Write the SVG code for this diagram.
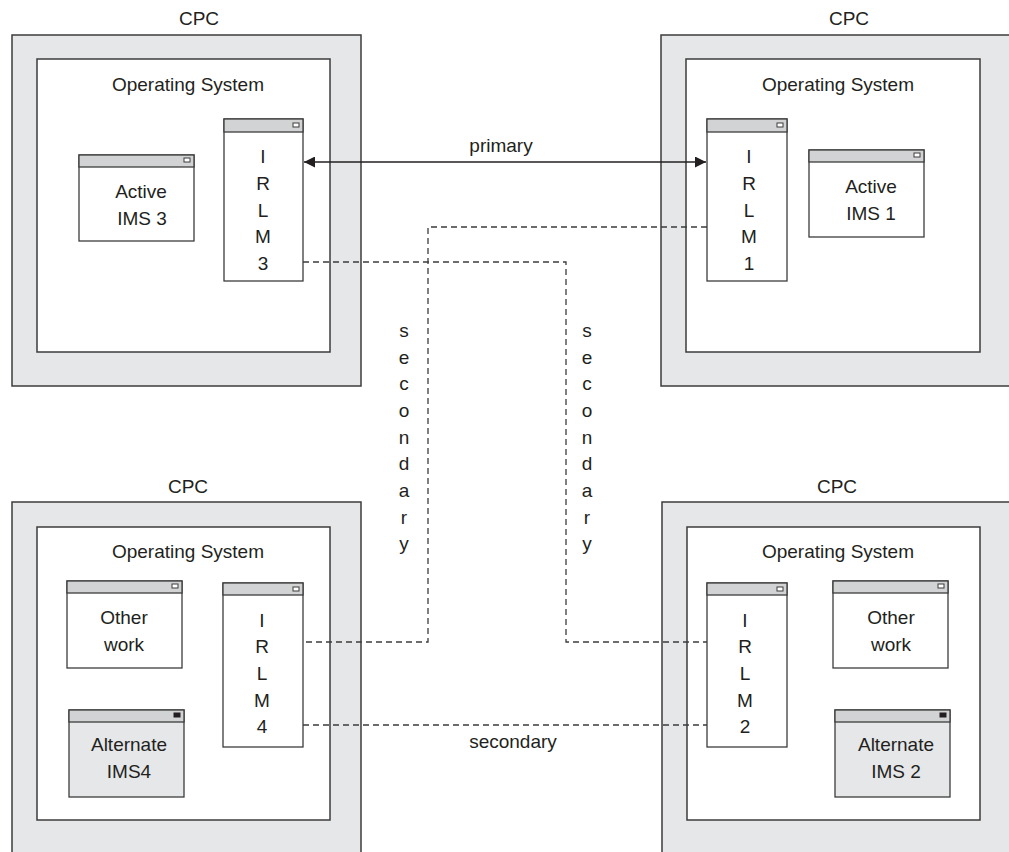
<svg xmlns="http://www.w3.org/2000/svg" width="1009" height="852" viewBox="0 0 1009 852">
<defs>
<style>
text{font-family:"Liberation Sans",Arial,sans-serif;font-size:19px;fill:#231f20;text-anchor:middle}
.cpc{fill:#e6e7e9;stroke:#3c3c3c;stroke-width:1.5}
.os{fill:#ffffff;stroke:#3c3c3c;stroke-width:1.5}
.win{fill:#ffffff;stroke:#3c3c3c;stroke-width:1.3}
.alt{fill:#e6e7e9;stroke:#3c3c3c;stroke-width:1.3}
.bar{fill:#d2d3d5;stroke:#3c3c3c;stroke-width:1.3}
.ico{fill:#ffffff;stroke:#3c3c3c;stroke-width:1}
.icof{fill:#231f20;stroke:#231f20;stroke-width:1}
.dash{fill:none;stroke:#3c3c3c;stroke-width:1.3;stroke-dasharray:6 4}
.solid{fill:none;stroke:#231f20;stroke-width:1.5}
</style>
<marker id="ah" viewBox="0 0 10 10" refX="10" refY="5" markerWidth="11" markerHeight="11" markerUnits="userSpaceOnUse" orient="auto-start-reverse">
<path d="M0,0 L10,5 L0,10 z" fill="#231f20"/>
</marker>
</defs>

<g id="cpc-tl">
<rect class="cpc" x="12" y="35" width="349" height="351"/>
<rect class="os" x="37" y="59" width="293" height="293"/>
<text x="199" y="25">CPC</text>
<text x="188" y="91">Operating System</text>
</g>
<g id="cpc-tr">
<rect class="cpc" x="661" y="35" width="360" height="351"/>
<rect class="os" x="686" y="59" width="294" height="293"/>
<text x="849" y="25">CPC</text>
<text x="838" y="91">Operating System</text>
</g>
<g id="cpc-bl">
<rect class="cpc" x="12" y="502" width="349" height="360"/>
<rect class="os" x="37" y="527" width="293" height="293"/>
<text x="188" y="493">CPC</text>
<text x="188" y="558">Operating System</text>
</g>
<g id="cpc-br">
<rect class="cpc" x="662" y="502" width="360" height="360"/>
<rect class="os" x="687" y="527" width="293" height="293"/>
<text x="837" y="493">CPC</text>
<text x="838" y="558">Operating System</text>
</g>

<g id="irlm3">
<rect class="win" x="224" y="119" width="79" height="162"/>
<rect class="bar" x="224" y="119" width="79" height="13"/>
<rect class="ico" x="293" y="123" width="6" height="4"/>
<text x="263" y="163">I</text><text x="263" y="190">R</text><text x="263" y="217">L</text><text x="263" y="243">M</text><text x="263" y="270">3</text>
</g>
<g id="ims3">
<rect class="win" x="79" y="155" width="115" height="86"/>
<rect class="bar" x="79" y="155" width="115" height="12"/>
<rect class="ico" x="184" y="158" width="6" height="4"/>
<text x="141" y="198">Active</text><text x="142" y="225">IMS 3</text>
</g>
<g id="irlm1">
<rect class="win" x="707" y="119" width="80" height="162"/>
<rect class="bar" x="707" y="119" width="80" height="13"/>
<rect class="ico" x="777" y="123" width="6" height="4"/>
<text x="749" y="163">I</text><text x="749" y="190">R</text><text x="749" y="217">L</text><text x="749" y="243">M</text><text x="749" y="270">1</text>
</g>
<g id="ims1">
<rect class="win" x="809" y="150" width="115" height="87"/>
<rect class="bar" x="809" y="150" width="115" height="12"/>
<rect class="ico" x="914" y="153" width="6" height="4"/>
<text x="871" y="193">Active</text><text x="871" y="220">IMS 1</text>
</g>
<g id="other-bl">
<rect class="win" x="67" y="581" width="115" height="87"/>
<rect class="bar" x="67" y="581" width="115" height="12"/>
<rect class="ico" x="172" y="584" width="6" height="4"/>
<text x="124" y="624">Other</text><text x="124" y="651">work</text>
</g>
<g id="ims4">
<rect class="alt" x="69" y="710" width="115" height="87"/>
<rect class="bar" x="69" y="710" width="115" height="12"/>
<rect class="icof" x="174" y="713" width="6" height="4"/>
<text x="129" y="751">Alternate</text><text x="129" y="778">IMS4</text>
</g>
<g id="irlm4">
<rect class="win" x="223" y="583" width="80" height="164"/>
<rect class="bar" x="223" y="583" width="80" height="12"/>
<rect class="ico" x="293" y="587" width="6" height="4"/>
<text x="262" y="627">I</text><text x="262" y="653">R</text><text x="262" y="680">L</text><text x="262" y="707">M</text><text x="262" y="733">4</text>
</g>
<g id="irlm2">
<rect class="win" x="707" y="583" width="80" height="164"/>
<rect class="bar" x="707" y="583" width="80" height="12"/>
<rect class="ico" x="777" y="587" width="6" height="4"/>
<text x="745" y="627">I</text><text x="745" y="653">R</text><text x="745" y="680">L</text><text x="745" y="707">M</text><text x="745" y="733">2</text>
</g>
<g id="other-br">
<rect class="win" x="833" y="581" width="115" height="87"/>
<rect class="bar" x="833" y="581" width="115" height="12"/>
<rect class="ico" x="938" y="584" width="6" height="4"/>
<text x="891" y="624">Other</text><text x="891" y="651">work</text>
</g>
<g id="ims2">
<rect class="alt" x="835" y="710" width="115" height="87"/>
<rect class="bar" x="835" y="710" width="115" height="12"/>
<rect class="icof" x="940" y="713" width="6" height="4"/>
<text x="896" y="751">Alternate</text><text x="896" y="778">IMS 2</text>
</g>

<g id="connectors">
<line class="solid" x1="304" y1="162" x2="706" y2="162" marker-start="url(#ah)" marker-end="url(#ah)"/>
<path class="dash" d="M707,227 H428 V642 H303"/>
<path class="dash" d="M303,262 H566 V642 H707"/>
<path class="dash" d="M303,725 H707"/>
<text x="501" y="152">primary</text>
<text x="513" y="748">secondary</text>
<g id="sec-left">
<text x="404" y="337">s</text><text x="404" y="364">e</text><text x="404" y="390">c</text><text x="404" y="417">o</text><text x="404" y="444">n</text><text x="404" y="470">d</text><text x="404" y="497">a</text><text x="404" y="524">r</text><text x="404" y="550">y</text>
</g>
<g id="sec-right">
<text x="587" y="337">s</text><text x="587" y="364">e</text><text x="587" y="390">c</text><text x="587" y="417">o</text><text x="587" y="444">n</text><text x="587" y="470">d</text><text x="587" y="497">a</text><text x="587" y="524">r</text><text x="587" y="550">y</text>
</g>
</g>
</svg>
